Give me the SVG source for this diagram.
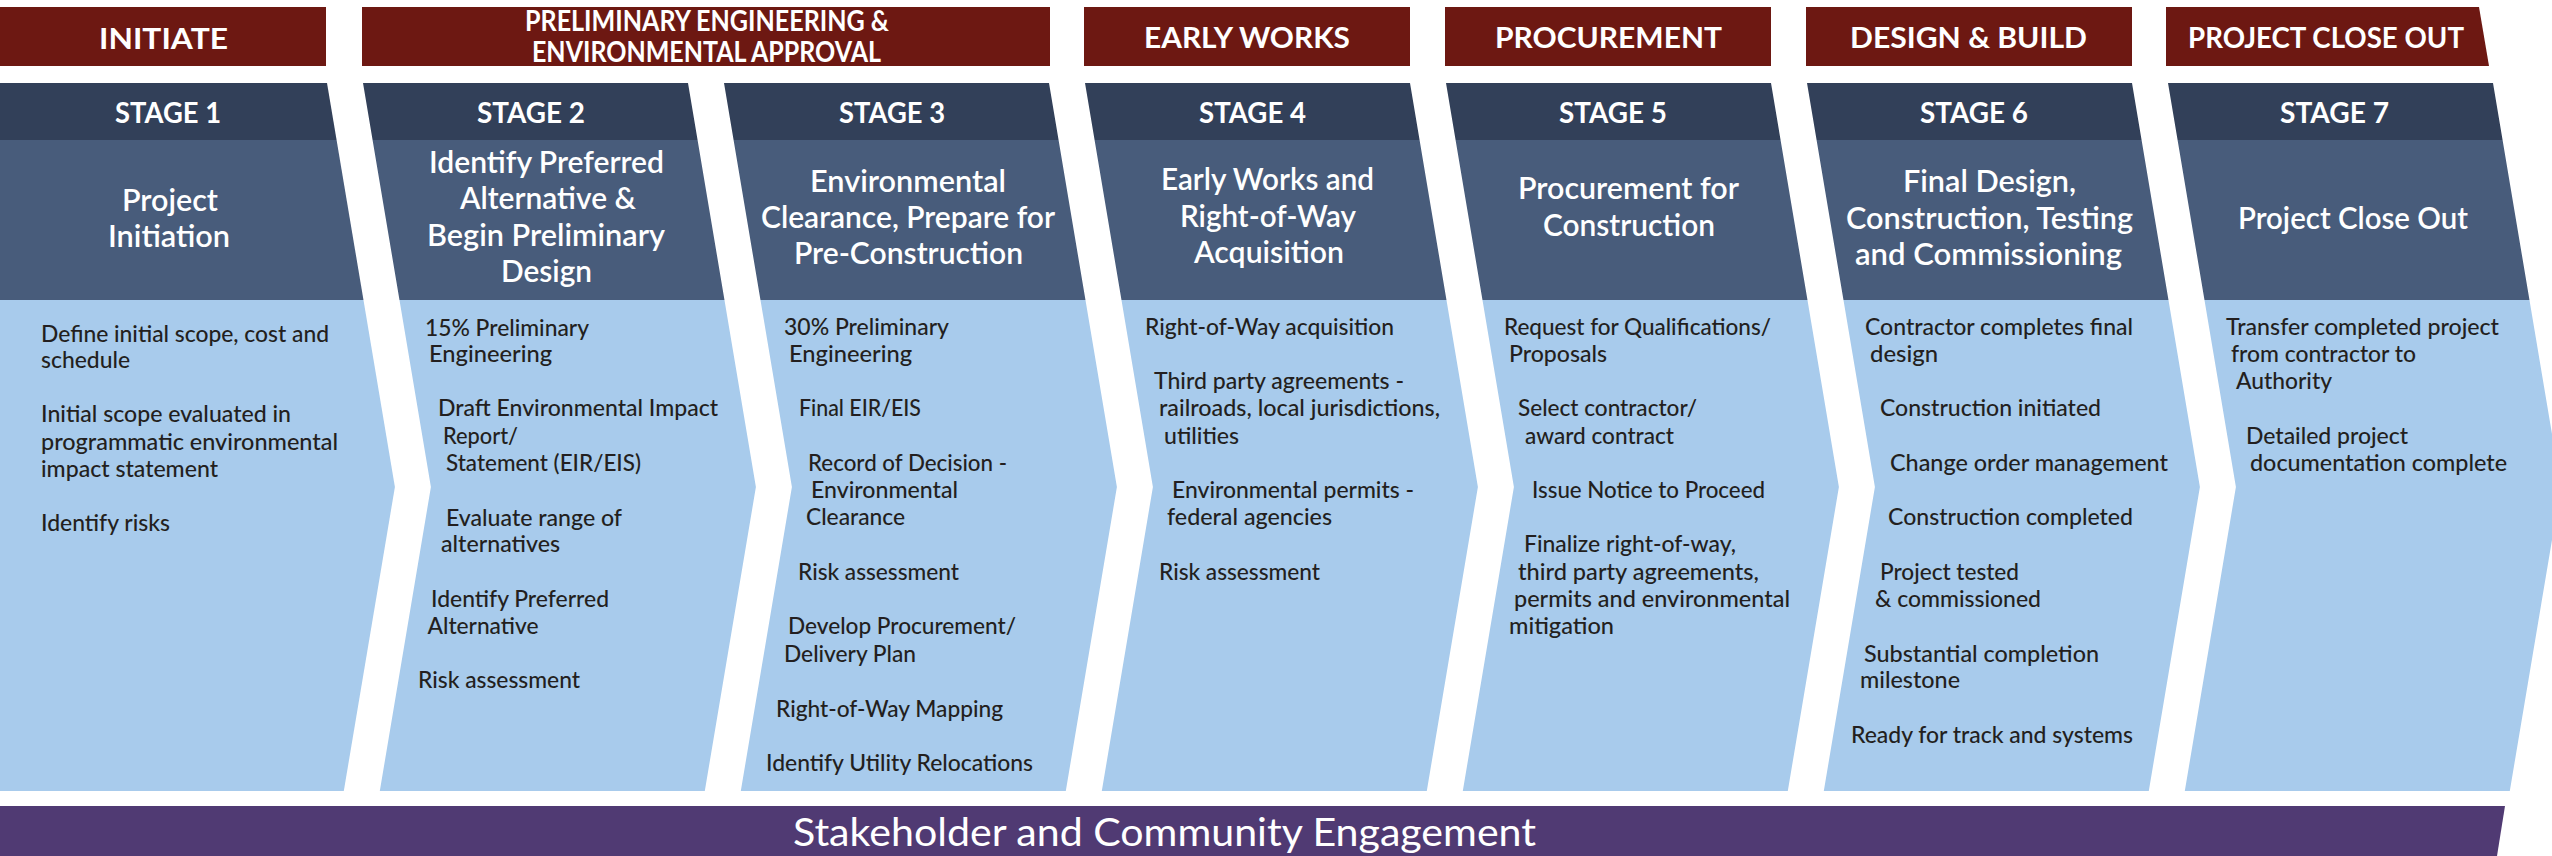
<svg xmlns="http://www.w3.org/2000/svg" width="2552" height="856" viewBox="0 0 2552 856">
<style>
.bn{fill:#6d1812}
.dk{fill:#324059}
.md{fill:#485c7b}
.lt{fill:#a8cbec}
.pu{fill:#503a73}
text{font-family:Lato,"Open Sans","Liberation Sans",sans-serif}
.bt{fill:#fff;font-size:29px;font-weight:700}
.st{fill:#fff;font-size:28px;font-weight:700}
.tt{fill:#fff;font-size:30px;font-weight:600}
.bd{fill:#231f20;font-size:23px;font-weight:500}
.en{fill:#fff;font-size:38px}
</style>
<defs>
<clipPath id="c1"><polygon points="0,83 327,83 394.9,487 343.8,791 0,791"/></clipPath>
<clipPath id="c2"><polygon points="363,83 688,83 755.9,487 704.8,791 379.8,791 430.9,487"/></clipPath>
<g id="chev1" clip-path="url(#c1)">
<rect class="dk" x="0" y="83" width="420" height="57"/>
<rect class="md" x="0" y="140" width="420" height="160"/>
<rect class="lt" x="0" y="300" width="420" height="491"/>
</g>
<g id="chev2" clip-path="url(#c2)">
<rect class="dk" x="340" y="83" width="440" height="57"/>
<rect class="md" x="340" y="140" width="440" height="160"/>
<rect class="lt" x="340" y="300" width="440" height="491"/>
</g>
</defs>

<g id="phases">
<g id="phase-initiate"><rect class="bn" x="0" y="7" width="326" height="59"/><text class="bt" x="99" y="49" font-size="32" textLength="129" lengthAdjust="spacingAndGlyphs">INITIATE</text></g>
<g id="phase-prelim"><rect class="bn" x="362" y="7" width="688" height="59"/>
<text class="bt" x="525" y="31" font-size="24" textLength="364" lengthAdjust="spacingAndGlyphs">PRELIMINARY ENGINEERING &amp;</text>
<text class="bt" x="532" y="62" font-size="24" textLength="349" lengthAdjust="spacingAndGlyphs">ENVIRONMENTAL APPROVAL</text></g>
<g id="phase-early"><rect class="bn" x="1084" y="7" width="326" height="59"/><text class="bt" x="1144" y="48" textLength="206" lengthAdjust="spacingAndGlyphs">EARLY WORKS</text></g>
<g id="phase-procurement"><rect class="bn" x="1445" y="7" width="326" height="59"/><text class="bt" x="1495" y="48" textLength="227" lengthAdjust="spacingAndGlyphs">PROCUREMENT</text></g>
<g id="phase-design"><rect class="bn" x="1806" y="7" width="326" height="59"/><text class="bt" x="1850" y="48" textLength="237" lengthAdjust="spacingAndGlyphs">DESIGN &amp; BUILD</text></g>
<g id="phase-closeout"><polygon class="bn" points="2166,7 2479,7 2489,66 2166,66"/><text class="bt" x="2188" y="48" textLength="276" lengthAdjust="spacingAndGlyphs">PROJECT CLOSE OUT</text></g>
</g>

<g id="stage1">
<use href="#chev1"/>
<text class="st" x="115" y="123" textLength="106" lengthAdjust="spacingAndGlyphs">STAGE 1</text>
<text class="tt" x="122" y="211" textLength="96" lengthAdjust="spacingAndGlyphs">Project</text>
<text class="tt" x="108" y="247" textLength="122" lengthAdjust="spacingAndGlyphs">Initiation</text>
<text class="bd" x="41" y="341.5" textLength="288" lengthAdjust="spacingAndGlyphs">Define initial scope, cost and</text>
<text class="bd" x="41" y="368" textLength="89" lengthAdjust="spacingAndGlyphs">schedule</text>
<text class="bd" x="41" y="422" textLength="250" lengthAdjust="spacingAndGlyphs">Initial scope evaluated in</text>
<text class="bd" x="41" y="450" textLength="297" lengthAdjust="spacingAndGlyphs">programmatic environmental</text>
<text class="bd" x="41" y="477" textLength="177" lengthAdjust="spacingAndGlyphs">impact statement</text>
<text class="bd" x="41" y="531" textLength="129" lengthAdjust="spacingAndGlyphs">Identify risks</text>
</g>

<g id="stage2">
<use href="#chev2"/>
<text class="st" x="477" y="123" textLength="108" lengthAdjust="spacingAndGlyphs">STAGE 2</text>
<text class="tt" x="429" y="173" textLength="235" lengthAdjust="spacingAndGlyphs">Identify Preferred</text>
<text class="tt" x="460" y="209" textLength="176" lengthAdjust="spacingAndGlyphs">Alternative &amp;</text>
<text class="tt" x="427" y="246" textLength="238" lengthAdjust="spacingAndGlyphs">Begin Preliminary</text>
<text class="tt" x="501" y="282" textLength="91" lengthAdjust="spacingAndGlyphs">Design</text>
<text class="bd" x="425" y="335.5" textLength="164" lengthAdjust="spacingAndGlyphs">15% Preliminary</text>
<text class="bd" x="429" y="362" textLength="123" lengthAdjust="spacingAndGlyphs">Engineering</text>
<text class="bd" x="438" y="416" textLength="280" lengthAdjust="spacingAndGlyphs">Draft Environmental Impact</text>
<text class="bd" x="443" y="444" textLength="75" lengthAdjust="spacingAndGlyphs">Report/</text>
<text class="bd" x="446" y="471" textLength="195" lengthAdjust="spacingAndGlyphs">Statement (EIR/EIS)</text>
<text class="bd" x="446" y="525.5" textLength="176" lengthAdjust="spacingAndGlyphs">Evaluate range of</text>
<text class="bd" x="441" y="552" textLength="119" lengthAdjust="spacingAndGlyphs">alternatives</text>
<text class="bd" x="431" y="607" textLength="178" lengthAdjust="spacingAndGlyphs">Identify Preferred</text>
<text class="bd" x="427.5" y="634" textLength="111" lengthAdjust="spacingAndGlyphs">Alternative</text>
<text class="bd" x="418" y="688" textLength="162" lengthAdjust="spacingAndGlyphs">Risk assessment</text>
</g>

<g id="stage3">
<use href="#chev2" x="361"/>
<text class="st" x="839" y="123" textLength="106" lengthAdjust="spacingAndGlyphs">STAGE 3</text>
<text class="tt" x="810" y="192" textLength="196" lengthAdjust="spacingAndGlyphs">Environmental</text>
<text class="tt" x="761" y="228" textLength="294" lengthAdjust="spacingAndGlyphs">Clearance, Prepare for</text>
<text class="tt" x="794" y="264" textLength="229" lengthAdjust="spacingAndGlyphs">Pre-Construction</text>
<text class="bd" x="784" y="335" textLength="165" lengthAdjust="spacingAndGlyphs">30% Preliminary</text>
<text class="bd" x="789" y="362" textLength="123" lengthAdjust="spacingAndGlyphs">Engineering</text>
<text class="bd" x="799" y="416" textLength="122" lengthAdjust="spacingAndGlyphs">Final EIR/EIS</text>
<text class="bd" x="808" y="471" textLength="199" lengthAdjust="spacingAndGlyphs">Record of Decision -</text>
<text class="bd" x="811" y="498" textLength="147" lengthAdjust="spacingAndGlyphs">Environmental</text>
<text class="bd" x="806" y="525" textLength="99" lengthAdjust="spacingAndGlyphs">Clearance</text>
<text class="bd" x="798" y="580" textLength="161" lengthAdjust="spacingAndGlyphs">Risk assessment</text>
<text class="bd" x="788" y="634" textLength="228" lengthAdjust="spacingAndGlyphs">Develop Procurement/</text>
<text class="bd" x="784" y="662" textLength="132" lengthAdjust="spacingAndGlyphs">Delivery Plan</text>
<text class="bd" x="776" y="717" textLength="227" lengthAdjust="spacingAndGlyphs">Right-of-Way Mapping</text>
<text class="bd" x="766" y="771" textLength="267" lengthAdjust="spacingAndGlyphs">Identify Utility Relocations</text>
</g>

<g id="stage4">
<use href="#chev2" x="722"/>
<text class="st" x="1199" y="123" textLength="107" lengthAdjust="spacingAndGlyphs">STAGE 4</text>
<text class="tt" x="1161" y="190" textLength="213" lengthAdjust="spacingAndGlyphs">Early Works and</text>
<text class="tt" x="1180" y="227" textLength="176" lengthAdjust="spacingAndGlyphs">Right-of-Way</text>
<text class="tt" x="1194" y="263" textLength="150" lengthAdjust="spacingAndGlyphs">Acquisition</text>
<text class="bd" x="1145" y="335" textLength="249" lengthAdjust="spacingAndGlyphs">Right-of-Way acquisition</text>
<text class="bd" x="1154" y="389" textLength="250" lengthAdjust="spacingAndGlyphs">Third party agreements -</text>
<text class="bd" x="1159" y="416" textLength="281" lengthAdjust="spacingAndGlyphs">railroads, local jurisdictions,</text>
<text class="bd" x="1164" y="444" textLength="75" lengthAdjust="spacingAndGlyphs">utilities</text>
<text class="bd" x="1172" y="498" textLength="242" lengthAdjust="spacingAndGlyphs">Environmental permits -</text>
<text class="bd" x="1167" y="525" textLength="165" lengthAdjust="spacingAndGlyphs">federal agencies</text>
<text class="bd" x="1159" y="580" textLength="161" lengthAdjust="spacingAndGlyphs">Risk assessment</text>
</g>

<g id="stage5">
<use href="#chev2" x="1083"/>
<text class="st" x="1559" y="123" textLength="108" lengthAdjust="spacingAndGlyphs">STAGE 5</text>
<text class="tt" x="1518" y="199" textLength="221" lengthAdjust="spacingAndGlyphs">Procurement for</text>
<text class="tt" x="1543" y="236" textLength="172" lengthAdjust="spacingAndGlyphs">Construction</text>
<text class="bd" x="1504" y="335" textLength="267" lengthAdjust="spacingAndGlyphs">Request for Qualifications/</text>
<text class="bd" x="1509" y="362" textLength="98" lengthAdjust="spacingAndGlyphs">Proposals</text>
<text class="bd" x="1518" y="416" textLength="179" lengthAdjust="spacingAndGlyphs">Select contractor/</text>
<text class="bd" x="1525" y="444" textLength="149" lengthAdjust="spacingAndGlyphs">award contract</text>
<text class="bd" x="1532" y="498" textLength="233" lengthAdjust="spacingAndGlyphs">Issue Notice to Proceed</text>
<text class="bd" x="1524" y="552" textLength="212" lengthAdjust="spacingAndGlyphs">Finalize right-of-way,</text>
<text class="bd" x="1518" y="580" textLength="241" lengthAdjust="spacingAndGlyphs">third party agreements,</text>
<text class="bd" x="1514" y="607" textLength="276" lengthAdjust="spacingAndGlyphs">permits and environmental</text>
<text class="bd" x="1509" y="634" textLength="105" lengthAdjust="spacingAndGlyphs">mitigation</text>
</g>

<g id="stage6">
<use href="#chev2" x="1444"/>
<text class="st" x="1920" y="123" textLength="108" lengthAdjust="spacingAndGlyphs">STAGE 6</text>
<text class="tt" x="1903" y="192" textLength="173" lengthAdjust="spacingAndGlyphs">Final Design,</text>
<text class="tt" x="1846" y="229" textLength="287" lengthAdjust="spacingAndGlyphs">Construction, Testing</text>
<text class="tt" x="1855" y="265" textLength="267" lengthAdjust="spacingAndGlyphs">and Commissioning</text>
<text class="bd" x="1865" y="335" textLength="268" lengthAdjust="spacingAndGlyphs">Contractor completes final</text>
<text class="bd" x="1870" y="362" textLength="68" lengthAdjust="spacingAndGlyphs">design</text>
<text class="bd" x="1880" y="416" textLength="221" lengthAdjust="spacingAndGlyphs">Construction initiated</text>
<text class="bd" x="1890" y="471" textLength="278" lengthAdjust="spacingAndGlyphs">Change order management</text>
<text class="bd" x="1888" y="525" textLength="245" lengthAdjust="spacingAndGlyphs">Construction completed</text>
<text class="bd" x="1880" y="580" textLength="139" lengthAdjust="spacingAndGlyphs">Project tested</text>
<text class="bd" x="1875" y="607" textLength="166" lengthAdjust="spacingAndGlyphs">&amp; commissioned</text>
<text class="bd" x="1864" y="662" textLength="235" lengthAdjust="spacingAndGlyphs">Substantial completion</text>
<text class="bd" x="1860" y="688" textLength="100" lengthAdjust="spacingAndGlyphs">milestone</text>
<text class="bd" x="1851" y="743" textLength="282" lengthAdjust="spacingAndGlyphs">Ready for track and systems</text>
</g>

<g id="stage7">
<use href="#chev2" x="1805"/>
<text class="st" x="2280" y="123" textLength="109" lengthAdjust="spacingAndGlyphs">STAGE 7</text>
<text class="tt" x="2238" y="229" textLength="230" lengthAdjust="spacingAndGlyphs">Project Close Out</text>
<text class="bd" x="2226" y="335" textLength="273" lengthAdjust="spacingAndGlyphs">Transfer completed project</text>
<text class="bd" x="2231" y="362" textLength="185" lengthAdjust="spacingAndGlyphs">from contractor to</text>
<text class="bd" x="2236" y="389" textLength="96" lengthAdjust="spacingAndGlyphs">Authority</text>
<text class="bd" x="2246" y="444" textLength="162" lengthAdjust="spacingAndGlyphs">Detailed project</text>
<text class="bd" x="2250" y="471" textLength="257" lengthAdjust="spacingAndGlyphs">documentation complete</text>
</g>

<g id="engagement">
<polygon class="pu" points="0,806 2505,806 2497,856 0,856"/>
<text class="en" x="793" y="846" textLength="743" lengthAdjust="spacingAndGlyphs">Stakeholder and Community Engagement</text>
</g>
</svg>
